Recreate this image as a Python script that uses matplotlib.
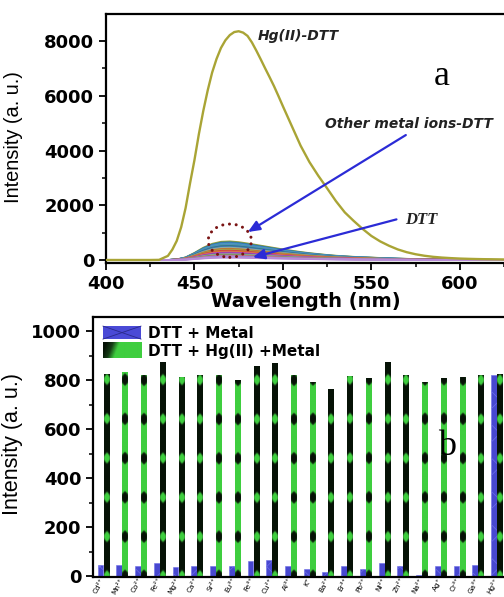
import numpy as np
import matplotlib
matplotlib.use("Agg")
import matplotlib.pyplot as plt
from matplotlib.patches import Ellipse, Rectangle
from matplotlib.lines import Line2D
from matplotlib.colors import LinearSegmentedColormap
from matplotlib.ticker import MultipleLocator

# ---------------- data ----------------
# Hg(II)-DTT emission spectrum (panel a)
hg_wavelength = [400, 405, 410, 415, 420, 425, 430, 435, 437.5, 440, 442.5,
                 445, 447.5, 450, 452.5, 455, 457.5, 460, 462.5, 465, 467.5,
                 470, 472.5, 475, 477.5, 480, 482.5, 485, 487.5, 490, 492.5,
                 495, 497.5, 500, 502.5, 505, 507.5, 510, 515, 520, 525, 530,
                 535, 540, 545, 550, 555, 560, 565, 570, 575, 580, 585, 590,
                 595, 600, 605, 610, 615, 620, 625]
hg_dtt = [0, 0, 0, 0, 0, 0, 5, 150, 380, 700, 1200, 1900, 2800, 3650, 4600,
          5450, 6200, 6850, 7350, 7750, 8030, 8220, 8330, 8360, 8310, 8190,
          7950, 7650, 7330, 7000, 6680, 6350, 5990, 5620, 5260, 4900, 4540,
          4180, 3580, 3080, 2620, 2150, 1740, 1430, 1140, 880, 680, 520, 385,
          285, 210, 155, 115, 88, 68, 52, 42, 34, 28, 24, 20]

# weak metal-ion / DTT spectra: common band shape and individual maxima
wavelength = np.arange(400, 626, 5)
metal_profile = [0, 0, 0, 0, 0, 0, 0, 0, 0.03, 0.14, 0.38, 0.66, 0.87, 0.98,
                 1.0, 0.96, 0.89, 0.81, 0.73, 0.65, 0.57, 0.50, 0.43, 0.37,
                 0.32, 0.27, 0.23, 0.20, 0.17, 0.15, 0.13, 0.11, 0.09, 0.075,
                 0.062, 0.052, 0.043, 0.036, 0.030, 0.025, 0.020, 0.016, 0.012,
                 0.009, 0.006, 0.004]
metal_peaks = [680, 650, 620, 595, 570, 545, 515, 485, 450, 410, 375, 340,
               305, 275, 245, 215, 190, 165, 140, 120, 100]
dtt_peak = 85

# selectivity bars (panel b)
ions = ["Cd²⁺", "Mn²⁺", "Co²⁺", "Fe²⁺", "Mg²⁺", "Ca²⁺", "Sr²⁺", "Eu³⁺",
        "Fe³⁺", "Cu²⁺", "Al³⁺", "K⁺", "Ba²⁺", "Er³⁺", "Pb²⁺", "Ni²⁺",
        "Zn²⁺", "Na²⁺", "Ag⁺", "Cr³⁺", "Ga³⁺", "Hg²⁺"]
dtt_metal = [45, 45, 42, 54, 38, 42, 42, 40, 61, 65, 42, 31, 16, 40, 28, 54,
             42, 7, 40, 40, 44, 820]
dtt_hg_metal = [821, 830, 819, 871, 810, 819, 819, 799, 856, 867, 819, 789,
                761, 812, 804, 871, 819, 789, 804, 810, 819, 823]

# ---------------- styles ----------------
curve_colors = ["#a09a35", "#2e8b8b", "#3f6fbf", "#4f93d3", "#3aa3a3",
                "#6282c4", "#238080", "#4472b4", "#8cb0a0", "#c07232",
                "#a3a344", "#d04444", "#e08424", "#c244c2", "#8444a4",
                "#a2a2a2", "#62b262", "#b46262", "#d484c4", "#7474d4",
                "#c4a4d4"]
dtt_color = "#b888d8"
stripe_mode = ["dark", "green", "green", "dark", "dark", "dark", "green",
               "green", "dark", "dark", "green", "green", "dark", "dark",
               "green", "dark", "dark", "green", "green", "green", "dark",
               "dark"]

plt.rcParams["font.family"] = "DejaVu Sans"
plt.rcParams["hatch.linewidth"] = 0.5

fig = plt.figure(figsize=(5.04, 5.97), dpi=100)
W, H = 504.0, 597.0

def style_axes(ax):
    ax.spines["right"].set_visible(False)
    for s in ("left", "top", "bottom"):
        ax.spines[s].set_linewidth(1.6)
    ax.tick_params(which="major", direction="out", length=5, width=1.3,
                   labelsize=13)
    ax.tick_params(which="minor", direction="out", length=3, width=1.1)
    ax.tick_params(top=False, right=False, which="both")

# ================= panel a =================
ax1 = fig.add_axes([106 / W, 1 - 263 / H, 398 / W, 249 / H])
style_axes(ax1)

prof = np.array(metal_profile)
for pk, c in zip(metal_peaks, curve_colors):
    ax1.plot(wavelength, prof * pk, color=c, lw=1.3, zorder=2)
ax1.plot(wavelength, prof * dtt_peak, color=dtt_color, lw=1.3, zorder=2)
ax1.plot(hg_wavelength, hg_dtt, color="#a9a435", lw=1.7, zorder=3)

ax1.add_patch(Ellipse((470, 705), 24.5, 1216, fill=False,
                      edgecolor="#7a1414", lw=2.2,
                      linestyle=(0, (0.01, 2.2)), capstyle="round", zorder=4))

arrow_kw = dict(arrowstyle="-|>,head_length=0.7,head_width=0.3",
                color="#2b2bd6", lw=1.6, shrinkA=0, shrinkB=0)
ax1.annotate("", xy=(480.2, 1023), xytext=(569.5, 4566),
             arrowprops=arrow_kw, zorder=5)
ax1.annotate("", xy=(483, 97), xytext=(564.2, 1484),
             arrowprops=arrow_kw, zorder=5)

ax1.text(485.9, 8183, "Hg(II)-DTT", fontsize=10, fontweight="bold",
         fontstyle="italic", ha="left", va="center", color="#222222")
ax1.text(523.7, 4968, "Other metal ions-DTT", fontsize=10, fontweight="bold",
         fontstyle="italic", ha="left", va="center", color="#222222")
ax1.text(568.9, 1461, "DTT", fontsize=12, fontweight="bold",
         fontstyle="italic", family="Liberation Serif", ha="left",
         va="center", color="#222222")
ax1.text(589.8, 6393, "a", fontsize=26, family="Liberation Serif",
         ha="center", va="baseline")

ax1.set_xlim(400, 625)
ax1.set_ylim(-110, 8990)
ax1.set_xticks([400, 450, 500, 550, 600])
ax1.set_yticks([0, 2000, 4000, 6000, 8000])
ax1.xaxis.set_minor_locator(MultipleLocator(25))
ax1.yaxis.set_minor_locator(MultipleLocator(1000))
for lab in ax1.get_xticklabels() + ax1.get_yticklabels():
    lab.set_fontweight("bold")
ax1.set_xlabel("Wavelength (nm)", fontsize=14, fontweight="bold", va="top")
ax1.xaxis.set_label_coords(0.5025, -0.115)
ax1.set_ylabel("Intensity (a. u.)", fontsize=14.4, family="Liberation Sans")
ax1.yaxis.set_label_coords(-0.2085, 0.506)

# ================= panel b =================
ax2 = fig.add_axes([93 / W, 1 - 577 / H, 411 / W, 260 / H])
style_axes(ax2)

x = np.arange(len(ions))
bw = 0.31
ax2.bar(x - 0.16, dtt_metal, bw, color="#4848d0", edgecolor="#6d6de8",
        lw=0.4, hatch="x", zorder=2)
green_bars = ax2.bar(x + 0.16, dtt_hg_metal, bw, color="none", lw=0,
                     zorder=2)

stripe_cmap = LinearSegmentedColormap.from_list(
    "stripe", ["#061206", "#163d16", "#3fce3f"])
period = 160.0
for rect, mode in zip(green_bars, stripe_mode):
    h = rect.get_height()
    yy = np.linspace(0, h, 500)
    xw = np.linspace(-1, 1, 9)
    XW, YY = np.meshgrid(xw, yy)
    v = np.cos(2 * np.pi * YY / period)
    # lens-shaped bands: narrower toward the bar edges
    band = np.clip((v - 0.45 - 0.3 * np.abs(XW)) / 0.3, 0, 1)
    g = band if mode == "dark" else 1 - band
    ax2.imshow(g, extent=[rect.get_x(), rect.get_x() + rect.get_width(), 0, h],
               origin="lower", aspect="auto", cmap=stripe_cmap, vmin=0, vmax=1,
               interpolation="bilinear", zorder=2)

# legend
ax2.add_patch(Rectangle((0.0243, 0.915), 0.0925, 0.05, transform=ax2.transAxes,
                        facecolor="#4a4ad6", edgecolor="none", zorder=6))
ax2.add_line(Line2D([0.0243, 0.1168], [0.915, 0.965], transform=ax2.transAxes,
                    color="#2a2a8a", lw=0.6, zorder=7))
ax2.add_line(Line2D([0.0243, 0.1168], [0.965, 0.915], transform=ax2.transAxes,
                    color="#2a2a8a", lw=0.6, zorder=7))
gx = np.linspace(0, 1, 60)
gy = np.linspace(0, 1, 20)
GX, GY = np.meshgrid(gx, gy)
grad = np.clip((GX - 0.08 + 0.15 * (1 - GY)) / 0.35, 0, 1)
ax2.imshow(grad, extent=[0.0243, 0.1168, 0.842, 0.9], transform=ax2.transAxes,
           origin="lower", aspect="auto", cmap=stripe_cmap, vmin=0, vmax=1,
           interpolation="bilinear", zorder=6)
ax2.text(0.134, 0.938, "DTT + Metal", transform=ax2.transAxes, fontsize=11,
         fontweight="bold", ha="left", va="center")
ax2.text(0.134, 0.869, "DTT + Hg(II) +Metal", transform=ax2.transAxes,
         fontsize=11, fontweight="bold", ha="left", va="center")

ax2.text(18.33, 494, "b", fontsize=26, family="Liberation Serif",
         ha="center", va="baseline", zorder=8)

ax2.set_xlim(-0.56, 21.37)
ax2.set_ylim(-3, 1057)
ax2.set_yticks([0, 200, 400, 600, 800, 1000])
ax2.yaxis.set_minor_locator(MultipleLocator(100))
ax2.set_xticks(x)
ax2.set_xticklabels(ions, rotation=60, rotation_mode="anchor", ha="right",
                    va="center", fontsize=5.2)
ax2.tick_params(axis="x", which="both", length=0, pad=1)
for lab in ax2.get_yticklabels():
    lab.set_fontweight("bold")
ax2.set_ylabel("Intensity (a. u.)", fontsize=15.5, family="Liberation Sans")
ax2.yaxis.set_label_coords(-0.170, 0.51)

fig.savefig("out.png", dpi=100)
